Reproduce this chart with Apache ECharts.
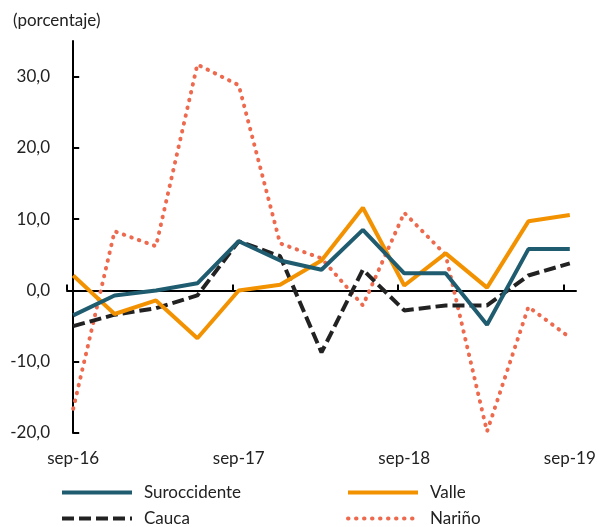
<html>
<head>
    <meta charset="utf-8">
    <title>Suroccidente</title>
    <script src="https://cdn.jsdelivr.net/npm/echarts@6.0.0/dist/echarts.min.js"></script>
</head>
<body style="margin:0">
    <div id="chartmain" style="width:602px; height:527px;"></div>
    <script type="text/javascript">
        // trimestres, de sep-16 a sep-19
        var trimestres = ['sep-16', 'dic-16', 'mar-17', 'jun-17', 'sep-17', 'dic-17', 'mar-18',
            'jun-18', 'sep-18', 'dic-18', 'mar-19', 'jun-19', 'sep-19'];
        var posEtiquetas = [0, 4, 8, 12];
        var posMarcas = [-0.15, 3.85, 7.85, 11.85];
        var marcasY = [-20, -10, 0, 10, 20, 30];

        var suroccidente = [-3.5, -0.7, 0.0, 1.0, 6.9, 4.2, 2.9, 8.5, 2.4, 2.4, -4.8, 5.8, 5.8];
        var valle = [2.1, -3.3, -1.4, -6.7, 0.0, 0.8, 4.2, 11.6, 0.7, 5.2, 0.4, 9.7, 10.6];
        var cauca = [-5.0, -3.4, -2.5, -0.7, 6.9, 4.8, -8.7, 2.9, -2.8, -2.1, -2.1, 2.1, 3.8];
        var narino = [-16.6, 8.3, 6.2, 31.7, 28.8, 6.6, 4.5, -2.1, 10.9, 5.0, -19.8, -2.3, -6.6];

        function pares(arr) {
            return arr.map(function (v, i) { return [i, v]; });
        }

        var fuente = 'Lato';
        var myChart = echarts.init(document.getElementById('chartmain'));

        function serie(nombre, datos, color, tipo, ancho, cap) {
            return {
                name: nombre,
                type: 'line',
                data: pares(datos),
                symbol: 'none',
                clip: false,
                lineStyle: { color: color, width: ancho, type: tipo, cap: cap || 'butt' },
                itemStyle: { color: color }
            };
        }

        function leyenda(nombre, left, top) {
            return {
                data: [nombre],
                left: left,
                top: top,
                itemWidth: 70,
                itemHeight: 14,
                padding: 0,
                itemStyle: { opacity: 0 },
                lineStyle: { width: 4 },
                textStyle: { fontFamily: fuente, fontSize: 17, color: '#222', padding: [0, 0, 0, 7] }
            };
        }

        myChart.setOption({
            animation: false,
            grid: { left: 67, right: 26, top: 41, bottom: 94 },
            graphic: [{
                type: 'text', left: 13, top: 12,
                style: { text: '(porcentaje)', fontFamily: fuente, fontSize: 17, fill: '#222' }
            }],
            legend: [
                leyenda('Suroccidente', 60, 484),
                leyenda('Valle', 346, 484),
                leyenda('Cauca', 60, 510),
                leyenda('Nariño', 346, 510)
            ],
            xAxis: {
                type: 'value',
                min: -0.15,
                max: 12.15,
                splitLine: { show: false },
                axisLine: { onZero: true, lineStyle: { color: '#000', width: 2 } },
                axisTick: { inside: true, length: 6, customValues: posMarcas, lineStyle: { color: '#000', width: 2 } },
                axisLabel: {
                    customValues: posEtiquetas,
                    formatter: function (v) { return trimestres[Math.round(v)]; },
                    fontFamily: fuente, fontSize: 17, color: '#222',
                    margin: 17
                }
            },
            yAxis: {
                type: 'value',
                min: -20,
                max: 35,
                splitLine: { show: false },
                axisLine: { show: true, lineStyle: { color: '#000', width: 2 } },
                axisTick: { show: true, inside: true, length: 6, customValues: marcasY, lineStyle: { color: '#000', width: 2 } },
                axisLabel: {
                    customValues: marcasY,
                    formatter: function (v) { return v.toFixed(1).replace('.', ','); },
                    fontFamily: fuente, fontSize: 17, color: '#222', margin: 17
                }
            },
            series: [
                serie('Nariño', narino, '#EE6A4F', [0.5, 7.5], 4, 'round'),
                serie('Cauca', cauca, '#222222', [12, 5], 4),
                serie('Valle', valle, '#F39200', 'solid', 4),
                serie('Suroccidente', suroccidente, '#1F5C70', 'solid', 4)
            ]
        });
    </script>
</body>
</html>
